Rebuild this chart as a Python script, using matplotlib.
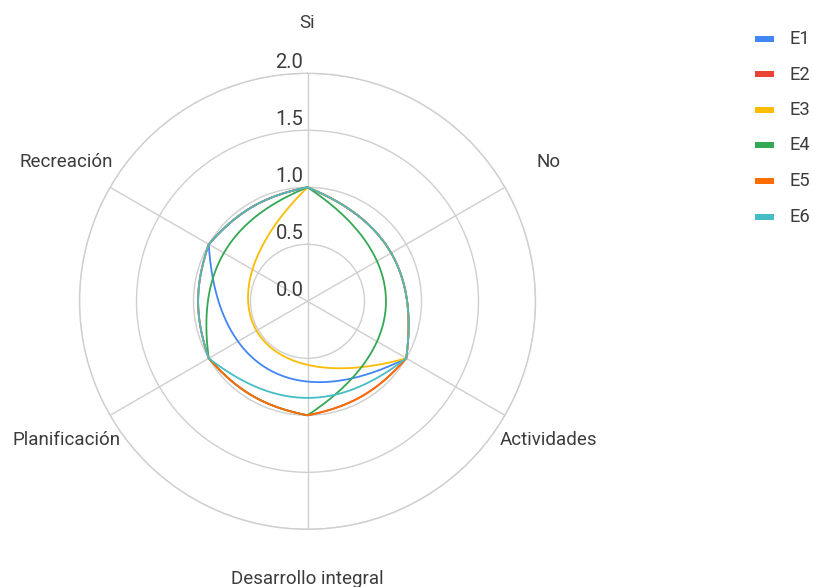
import numpy as np
import matplotlib
matplotlib.use("Agg")
import matplotlib.pyplot as plt
from matplotlib.transforms import offset_copy
from matplotlib.patches import Rectangle

plt.rcParams["font.family"] = ["Roboto", "DejaVu Sans"]

# ---- data ----
categories = ["Si", "No", "Actividades", "Desarrollo integral", "Planificación", "Recreación"]
series_names = ["E1", "E2", "E3", "E4", "E5", "E6"]
E1 = [1, None, 1, None, None, 1]
E2 = [1, None, 1, 1, 1, 1]
E3 = [1, None, 1, None, None, None]
E4 = [1, None, None, 1, 1, None]
E5 = [1, None, 1, 1, 1, 1]
E6 = [1, None, 1, None, 1, 1]
series_values = [E1, E2, E3, E4, E5, E6]
colors = ["#4285F4", "#EA4335", "#FBBC04", "#34A853", "#FF6D01", "#46BDC6"]
r_ticks = [0.0, 0.5, 1.0, 1.5, 2.0]

TEXT = "#3c3c3c"
GRID = "#cfcfcf"


def smooth_closed(thetas, rs, t=0.37, n=120):
    """Closed smoothed curve through (theta, r) points; blank entries are skipped."""
    m = len(thetas)
    th = np.asarray(thetas, float)
    r = np.asarray(rs, float)
    c_in, c_out = [], []
    for j in range(m):
        tp = th[j - 1] - (2 * np.pi if j == 0 else 0.0)
        tn = th[(j + 1) % m] + (2 * np.pi if j == m - 1 else 0.0)
        p0 = np.array([tp, r[j - 1]])
        p1 = np.array([th[j], r[j]])
        p2 = np.array([tn, r[(j + 1) % m]])
        d01 = np.hypot(*(p1 - p0))
        d12 = np.hypot(*(p2 - p1))
        fa = t * d01 / (d01 + d12)
        fb = t * d12 / (d01 + d12)
        c_in.append(p1 - fa * (p2 - p0))
        c_out.append(p1 + fb * (p2 - p0))

    def cart(p):
        return np.array([p[1] * np.sin(p[0]), p[1] * np.cos(p[0])])

    s = np.linspace(0, 1, n)[:, None]
    xs = []
    for j in range(m):
        k = (j + 1) % m
        shift = 2 * np.pi if k == 0 else 0.0
        P0 = cart([th[j], r[j]])
        C1 = cart(c_out[j])
        C2 = cart([c_in[k][0] + shift, c_in[k][1]])
        P3 = cart([th[k] + shift, r[k]])
        seg = ((1 - s) ** 3) * P0 + 3 * ((1 - s) ** 2) * s * C1 + 3 * (1 - s) * s ** 2 * C2 + s ** 3 * P3
        xs.append(seg)
    xy = np.vstack(xs)
    theta = np.unwrap(np.arctan2(xy[:, 0], xy[:, 1]))
    rad = np.hypot(xy[:, 0], xy[:, 1])
    return theta, rad


W, H = 813, 587
fig = plt.figure(figsize=(W / 100, H / 100), dpi=100)
cx, cy, R = 307.5, 301.3, 228.0
ax = fig.add_axes([(cx - R) / W, (H - cy - R) / H, 2 * R / W, 2 * R / H], projection="polar")
ax.set_theta_zero_location("N")
ax.set_theta_direction(-1)
ax.set_ylim(0, 2)

angles = np.arange(len(categories)) * 2 * np.pi / len(categories)
ax.set_xticks(angles)
ax.set_xticklabels([])
ax.set_yticks(r_ticks[1:])
ax.set_yticklabels([])
ax.grid(True, color=GRID, linewidth=1.0)
ax.spines["polar"].set_color(GRID)
ax.spines["polar"].set_linewidth(1.0)
ax.tick_params(length=0)

for vals, col in zip(series_values, colors):
    idx = [i for i, v in enumerate(vals) if v is not None]
    th, rr = smooth_closed(angles[idx], [vals[i] for i in idx])
    ax.plot(th, rr, color=col, linewidth=1.3, solid_capstyle="round")

# radial scale labels along the first spoke
lab_tr = offset_copy(ax.transData, fig=fig, x=-4, y=5, units="dots")
for v in r_ticks:
    ax.text(0, v, f"{v:.1f}", transform=lab_tr, ha="right", va="baseline",
            fontsize=14.5, color=TEXT)

# category labels
for a, name in zip(angles, categories):
    ax.text(a, 2.44, name, ha="center", va="center", fontsize=13.5, color=TEXT,
            clip_on=False)

# legend
for i, (name, col) in enumerate(zip(series_names, colors)):
    yc = 39 + i * 35.5
    fig.add_artist(Rectangle((755 / W, 1 - (yc + 3) / H), 19 / W, 6 / H,
                             transform=fig.transFigure, color=col, lw=0))
    fig.text(789 / W, 1 - yc / H, name, ha="left", va="center", fontsize=13.2, color=TEXT)

fig.savefig("out.png", dpi=100, facecolor="white")
